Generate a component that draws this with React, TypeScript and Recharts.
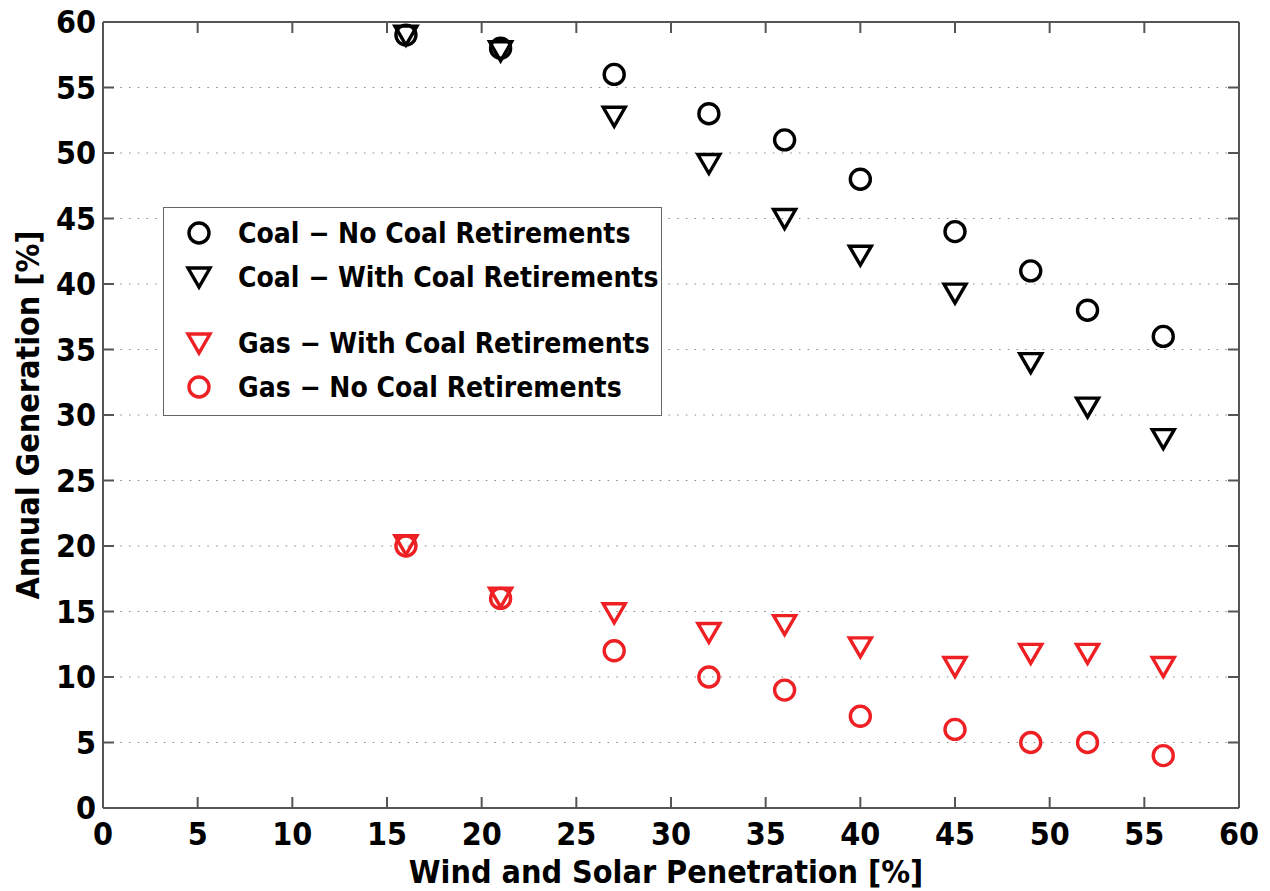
import {
  ScatterChart,
  Scatter,
  XAxis,
  YAxis,
  CartesianGrid,
  Legend,
} from "recharts";

// wind + solar penetration [%]
const penetration = [16, 21, 27, 32, 36, 40, 45, 49, 52, 56];

// annual generation [%]
const coalNoRetire = [59, 58, 56, 53, 51, 48, 44, 41, 38, 36];
const coalWithRetire = [59, 57.8, 52.8, 49.2, 45, 42.2, 39.3, 34, 30.6, 28.2];
const gasWithRetire = [20.1, 16.1, 14.9, 13.4, 14, 12.3, 10.8, 11.8, 11.8, 10.8];
const gasNoRetire = [20, 16, 12, 10, 9, 7, 6, 5, 5, 4];

const axisTicks = [0, 5, 10, 15, 20, 25, 30, 35, 40, 45, 50, 55, 60];
const axisDomain = [0, 60];

const FONT = "'DejaVu Sans Condensed', 'DejaVu Sans', sans-serif";
const RED = "#ee2024";
const BLACK = "#000";
const FRAME = "#555";

const toPoints = (ys: number[]) => penetration.map((x, i) => ({ x, y: ys[i] }));

const CircleMark = ({ cx, cy, color }: any) => (
  <circle cx={cx} cy={cy} r={10} fill="none" stroke={color} strokeWidth={3.4} />
);

const TriangleMark = ({ cx, cy, color }: any) => (
  <polygon
    points={`${cx - 11},${cy - 9} ${cx + 11},${cy - 9} ${cx},${cy + 10}`}
    fill="none"
    stroke={color}
    strokeWidth={3.4}
  />
);

// empty tick label: the mirrored axes only carry the inward tick marks
const NoLabel = () => <g />;

const legendRows = [
  { name: "Coal \u2212 No Coal Retirements", color: BLACK, marker: "circle" },
  { name: "Coal \u2212 With Coal Retirements", color: BLACK, marker: "triangle" },
  null,
  { name: "Gas \u2212 With Coal Retirements", color: RED, marker: "triangle" },
  { name: "Gas \u2212 No Coal Retirements", color: RED, marker: "circle" },
];

const LegendBox = () => (
  <div
    style={{
      width: 497,
      height: 204,
      border: "1px solid #666",
      background: "#fff",
      boxSizing: "content-box",
      paddingTop: 3,
    }}
  >
    {legendRows.map((row, i) => (
      <div
        key={i}
        style={{
          height: row ? 44 : 22,
          display: "flex",
          alignItems: "center",
          fontFamily: FONT,
          fontStretch: "condensed",
          fontWeight: "bold",
          fontSize: 28,
          color: "#000",
        }}
      >
        {row && (
          <>
            <svg width={74} height={30} style={{ flex: "none" }}>
              {row.marker === "circle" ? (
                <CircleMark cx={35} cy={15} color={row.color} />
              ) : (
                <TriangleMark cx={35} cy={15} color={row.color} />
              )}
            </svg>
            <span>{row.name}</span>
          </>
        )}
      </div>
    ))}
  </div>
);

const tickStyle = {
  fill: "#000",
  fontSize: 32,
  fontWeight: "bold",
  fontFamily: FONT,
  fontStretch: "condensed",
};

const frameLine = { stroke: FRAME, strokeWidth: 2 };

export default function App() {
  return (
    <div style={{ position: "absolute", left: 0, top: 0, background: "#fff" }}>
      <ScatterChart
        width={1270}
        height={891}
        margin={{ top: 22, right: 31, left: 0, bottom: 0 }}
      >
        <CartesianGrid
          xAxisId="b"
          yAxisId="l"
          vertical={false}
          stroke="#888"
          strokeDasharray="1.5 7.2"
        />
        {/* labelled axes */}
        <XAxis
          xAxisId="b"
          dataKey="x"
          type="number"
          domain={axisDomain}
          ticks={axisTicks}
          height={83}
          tickSize={0}
          tickMargin={14}
          axisLine={frameLine}
          tickLine={false}
          tick={tickStyle}
          label={{
            value: "Wind and Solar Penetration [%]",
            position: "insideBottom",
            offset: 8,
            dx: -5,
            style: { ...tickStyle },
          }}
        />
        <YAxis
          yAxisId="l"
          dataKey="y"
          type="number"
          domain={axisDomain}
          ticks={axisTicks}
          width={103}
          tickSize={0}
          tickMargin={7}
          axisLine={frameLine}
          tickLine={false}
          tick={tickStyle}
          label={{
            value: "Annual Generation [%]",
            angle: -90,
            position: "insideLeft",
            offset: 28,
            style: { ...tickStyle, textAnchor: "middle" },
          }}
        />
        {/* mirrored axes for inward ticks and the top / right frame */}
        <XAxis
          xAxisId="bm"
          dataKey="x"
          type="number"
          domain={axisDomain}
          ticks={axisTicks}
          height={11}
          mirror
          tickSize={11}
          tick={NoLabel}
          axisLine={false}
          tickLine={frameLine}
        />
        <XAxis
          xAxisId="t"
          dataKey="x"
          orientation="top"
          type="number"
          domain={axisDomain}
          ticks={axisTicks}
          height={11}
          mirror
          tickSize={11}
          tick={NoLabel}
          axisLine={frameLine}
          tickLine={frameLine}
        />
        <YAxis
          yAxisId="lm"
          dataKey="y"
          type="number"
          domain={axisDomain}
          ticks={axisTicks}
          width={11}
          mirror
          tickSize={11}
          tick={NoLabel}
          axisLine={false}
          tickLine={frameLine}
        />
        <YAxis
          yAxisId="r"
          dataKey="y"
          orientation="right"
          type="number"
          domain={axisDomain}
          ticks={axisTicks}
          width={11}
          mirror
          tickSize={11}
          tick={NoLabel}
          axisLine={frameLine}
          tickLine={frameLine}
        />
        <Legend
          layout="vertical"
          align="center"
          verticalAlign="middle"
          content={<LegendBox />}
          wrapperStyle={{ left: 163, top: 207, width: 499, height: 210 }}
        />
        <Scatter
          name="Coal - With Coal Retirements"
          xAxisId="b"
          yAxisId="l"
          data={toPoints(coalWithRetire)}
          shape={(p: any) => <TriangleMark cx={p.cx} cy={p.cy} color={BLACK} />}
          isAnimationActive={false}
        />
        <Scatter
          name="Coal - No Coal Retirements"
          xAxisId="t"
          yAxisId="r"
          data={toPoints(coalNoRetire)}
          shape={(p: any) => <CircleMark cx={p.cx} cy={p.cy} color={BLACK} />}
          isAnimationActive={false}
        />
        <Scatter
          name="Gas - With Coal Retirements"
          xAxisId="bm"
          yAxisId="lm"
          data={toPoints(gasWithRetire)}
          shape={(p: any) => <TriangleMark cx={p.cx} cy={p.cy} color={RED} />}
          isAnimationActive={false}
        />
        <Scatter
          name="Gas - No Coal Retirements"
          xAxisId="b"
          yAxisId="l"
          data={toPoints(gasNoRetire)}
          shape={(p: any) => <CircleMark cx={p.cx} cy={p.cy} color={RED} />}
          isAnimationActive={false}
        />
      </ScatterChart>
    </div>
  );
}
